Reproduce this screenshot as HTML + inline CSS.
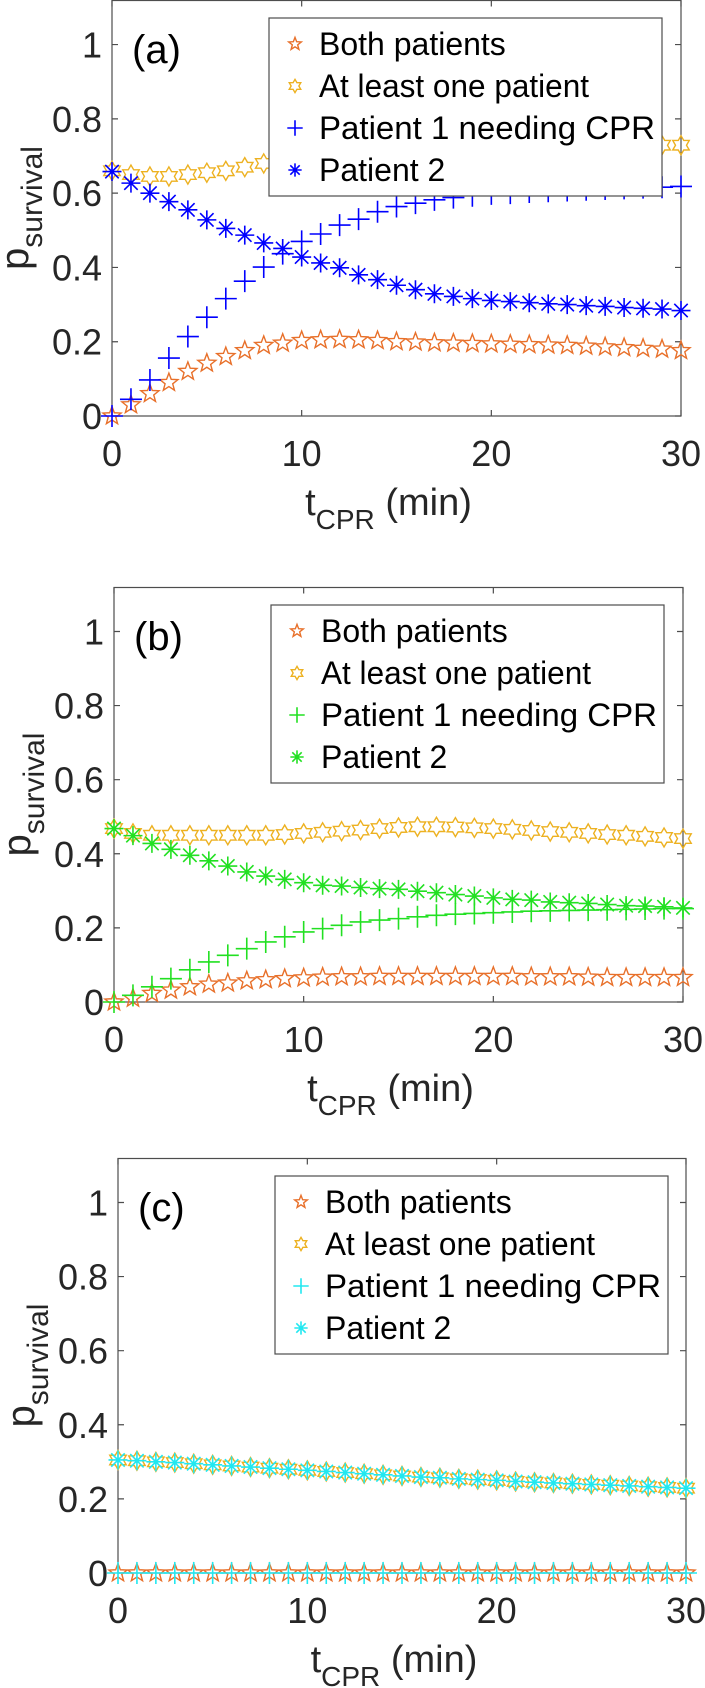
<!DOCTYPE html>
<html><head><meta charset="utf-8">
<style>
html,body{margin:0;padding:0;background:#fff;}
svg{display:block;font-family:"Liberation Sans",Arial,sans-serif;}
</style></head>
<body>
<svg id="fig" width="705" height="1688" viewBox="0 0 705 1688" xmlns="http://www.w3.org/2000/svg"></svg>
<script>
const tCPR = [0,1,2,3,4,5,6,7,8,9,10,11,12,13,14,15,16,17,18,19,20,21,22,23,24,25,26,27,28,29,30];
const xTicks = [0,10,20,30];
const yTicks = [0,0.2,0.4,0.6,0.8,1];
const yTickLabels = ["0","0.2","0.4","0.6","0.8","1"];
const seriesNames = ["Both patients","At least one patient","Patient 1 needing CPR","Patient 2"];
const panelLabels = ["(a)","(b)","(c)"];

const aBoth = [0,0.03,0.06,0.09,0.12,0.142,0.16,0.176,0.19,0.196,0.203,0.205,0.206,0.205,0.203,0.2,0.199,0.197,0.196,0.195,0.194,0.193,0.192,0.191,0.19,0.188,0.186,0.184,0.182,0.18,0.176];
const aAtLeast = [0.66,0.65,0.645,0.645,0.65,0.655,0.66,0.67,0.68,0.69,0.70,0.705,0.71,0.713,0.716,0.718,0.72,0.722,0.723,0.724,0.725,0.726,0.726,0.727,0.727,0.728,0.728,0.729,0.729,0.729,0.729];
const aP1 = [0,0.045,0.097,0.156,0.214,0.266,0.316,0.363,0.401,0.437,0.47,0.49,0.514,0.53,0.55,0.564,0.573,0.582,0.588,0.593,0.598,0.6,0.603,0.605,0.607,0.609,0.611,0.613,0.615,0.616,0.618];
const aP2 = [0.658,0.627,0.60,0.577,0.555,0.528,0.505,0.487,0.466,0.451,0.428,0.412,0.399,0.38,0.367,0.352,0.34,0.329,0.322,0.316,0.311,0.308,0.305,0.302,0.3,0.297,0.295,0.292,0.29,0.288,0.284];

const bBoth = [0,0.01,0.023,0.032,0.041,0.048,0.051,0.057,0.06,0.063,0.065,0.067,0.068,0.068,0.069,0.069,0.069,0.069,0.069,0.069,0.069,0.069,0.068,0.068,0.068,0.067,0.066,0.066,0.066,0.066,0.066];
const bAtLeast = [0.468,0.455,0.45,0.45,0.45,0.45,0.45,0.45,0.45,0.452,0.455,0.458,0.461,0.464,0.468,0.471,0.473,0.473,0.472,0.47,0.468,0.466,0.463,0.46,0.458,0.455,0.452,0.45,0.447,0.444,0.441];
const bP1 = [0,0.018,0.041,0.063,0.087,0.108,0.126,0.144,0.162,0.176,0.189,0.198,0.207,0.216,0.221,0.225,0.23,0.234,0.237,0.239,0.241,0.243,0.245,0.246,0.247,0.248,0.249,0.25,0.251,0.252,0.252];
const bP2 = [0.468,0.449,0.428,0.412,0.396,0.381,0.367,0.351,0.34,0.331,0.322,0.315,0.313,0.309,0.306,0.304,0.299,0.295,0.29,0.286,0.281,0.277,0.275,0.27,0.268,0.266,0.263,0.26,0.259,0.257,0.254];

const cBoth = [0,0,0,0,0,0,0,0,0,0,0,0,0,0,0,0,0,0,0,0,0,0,0,0,0,0,0,0,0,0,0];
const cAtLeast = [0.305,0.303,0.3,0.298,0.295,0.292,0.289,0.286,0.283,0.28,0.277,0.274,0.271,0.268,0.265,0.262,0.259,0.257,0.254,0.252,0.25,0.247,0.245,0.243,0.241,0.239,0.237,0.235,0.233,0.231,0.229];
const cP1 = [0,0,0,0,0,0,0,0,0,0,0,0,0,0,0,0,0,0,0,0,0,0,0,0,0,0,0,0,0,0,0];
const cP2 = [0.305,0.303,0.3,0.298,0.295,0.292,0.289,0.286,0.283,0.28,0.277,0.274,0.271,0.268,0.265,0.262,0.259,0.257,0.254,0.252,0.25,0.247,0.245,0.243,0.241,0.239,0.237,0.235,0.233,0.231,0.229];

const NS = "http://www.w3.org/2000/svg";
const svg = document.getElementById('fig');
function mk(tag, attrs, parent){
  const e = document.createElementNS(NS, tag);
  for (const k in attrs) e.setAttribute(k, attrs[k]);
  (parent||svg).appendChild(e);
  return e;
}
const ORANGE="#E8702A", YELLOW="#EDB120";
function starPts(cx,cy,R,r,n,rot){
  let p=[];
  for(let i=0;i<2*n;i++){
    const a=rot+i*Math.PI/n; const rr=i%2?r:R;
    p.push((cx+rr*Math.sin(a)).toFixed(2)+","+(cy-rr*Math.cos(a)).toFixed(2));
  }
  return p.join(" ");
}
function marker(g,type,cx,cy,color,s){
  if(type==='pent'){
    return mk('polygon',{points:starPts(cx,cy,9.5*s,4*s,5,0),fill:'none',stroke:color,'stroke-width':1.4},g);
  } else if(type==='hex'){
    return mk('polygon',{points:starPts(cx,cy,9.5*s,5.5*s,6,0),fill:'none',stroke:color,'stroke-width':1.4},g);
  } else if(type==='plus'){
    return mk('path',{d:`M${cx-11*s},${cy}H${cx+11*s}M${cx},${cy-11*s}V${cy+11*s}`,stroke:color,'stroke-width':1.6,fill:'none'},g);
  } else {
    const r=9.5*s, d=r*0.7071;
    return mk('path',{d:`M${cx-r},${cy}H${cx+r}M${cx},${cy-r}V${cy+r}M${cx-d},${cy-d}L${cx+d},${cy+d}M${cx-d},${cy+d}L${cx+d},${cy-d}`,stroke:color,'stroke-width':1.6,fill:'none'},g);
  }
}

const panels = [
  {top:0,left:112,right:681,bottom:416,col:"#0000FF",data:[aBoth,aAtLeast,aP1,aP2],name:'panel-a'},
  {top:587,left:114,right:683,bottom:1002,col:"#22E022",data:[bBoth,bAtLeast,bP1,bP2],name:'panel-b'},
  {top:1158,left:118,right:686,bottom:1573,col:"#22E8F0",data:[cBoth,cAtLeast,cP1,cP2],name:'panel-c'}
];
const YMAX=1.12;

panels.forEach((P,pi)=>{
  const g = mk('g',{});
  
  
  const xs = v => P.left + (v/30)*(P.right-P.left);
  const ys = v => P.bottom - (v/YMAX)*(P.bottom-P.top);
  const box = mk('rect',{x:P.left,y:P.top+0.5,width:P.right-P.left,height:P.bottom-P.top-0.5,fill:'none',stroke:'#4d4d4d','stroke-width':1.2},g);
  
  
  yTicks.forEach((t,i)=>{
    const y=ys(t);
    mk('path',{d:`M${P.left},${y}h6M${P.right},${y}h-6`,stroke:'#4d4d4d','stroke-width':1.2},g);
    const tx = mk('text',{x:P.left-10,y:y+13,'text-anchor':'end','font-size':36,fill:'#262626'},g);
    tx.textContent = yTickLabels[i];
    
    
  });
  xTicks.forEach(t=>{
    const x=xs(t);
    mk('path',{d:`M${x},${P.bottom}v-6M${x},${P.top+0.5}v6`,stroke:'#4d4d4d','stroke-width':1.2},g);
    const tx = mk('text',{x:x,y:P.bottom+50,'text-anchor':'middle','font-size':36,fill:'#262626'},g);
    tx.textContent = String(t);
    
    
  });
  const xl = mk('text',{x:(P.left+P.right)/2-8,y:P.bottom+99,'text-anchor':'middle','font-size':38,fill:'#262626'},g);
  xl.innerHTML = 't<tspan font-size="28" dy="14">CPR</tspan><tspan dy="-14"> (min)</tspan>';
  
  
  const yc=(P.top+P.bottom)/2;
  const yl = mk('text',{x:0,y:0,'text-anchor':'middle','font-size':40,fill:'#262626',transform:`translate(${P.left-84},${yc}) rotate(-90)`},g);
  yl.innerHTML = 'p<tspan font-size="30" dy="14">survival</tspan>';
  
  
  const types=['pent','hex','plus','ast'];
  const cols=[ORANGE,YELLOW,P.col,P.col];
  [1,0,2,3].forEach(si=>{
    const sg = mk('g',{},g);
    
    
    tCPR.forEach((t,i)=>{
      const m = marker(sg,types[si],xs(t),ys(P.data[si][i]),cols[si],1);
      
      
    });
  });
  const pl = mk('text',{x:P.left+20,y:P.top+63,'font-size':40,fill:'#000'},g);
  pl.textContent = panelLabels[pi];
  
  
  const lg = mk('g',{},g);
  
  
  const lx = P.left+157, lw=393;
  mk('rect',{x:lx,y:P.top+18,width:lw,height:178,fill:'#fff',stroke:'#4d4d4d','stroke-width':1.2},lg);
  seriesNames.forEach((n,si)=>{
    const by = P.top+55+si*42;
    const e = mk('g',{},lg);
    
    
    marker(e,types[si],lx+26,by-11,cols[si],0.7);
    const t = mk('text',{x:lx+50,y:by,'font-size':32,fill:'#000',textLength:n.length>15?(n.length>20?336:270):0,lengthAdjust:'spacingAndGlyphs'},e);
    if(n.length<=15) t.removeAttribute('textLength');
    t.textContent = n;
  });
});
</script>
</body></html>
